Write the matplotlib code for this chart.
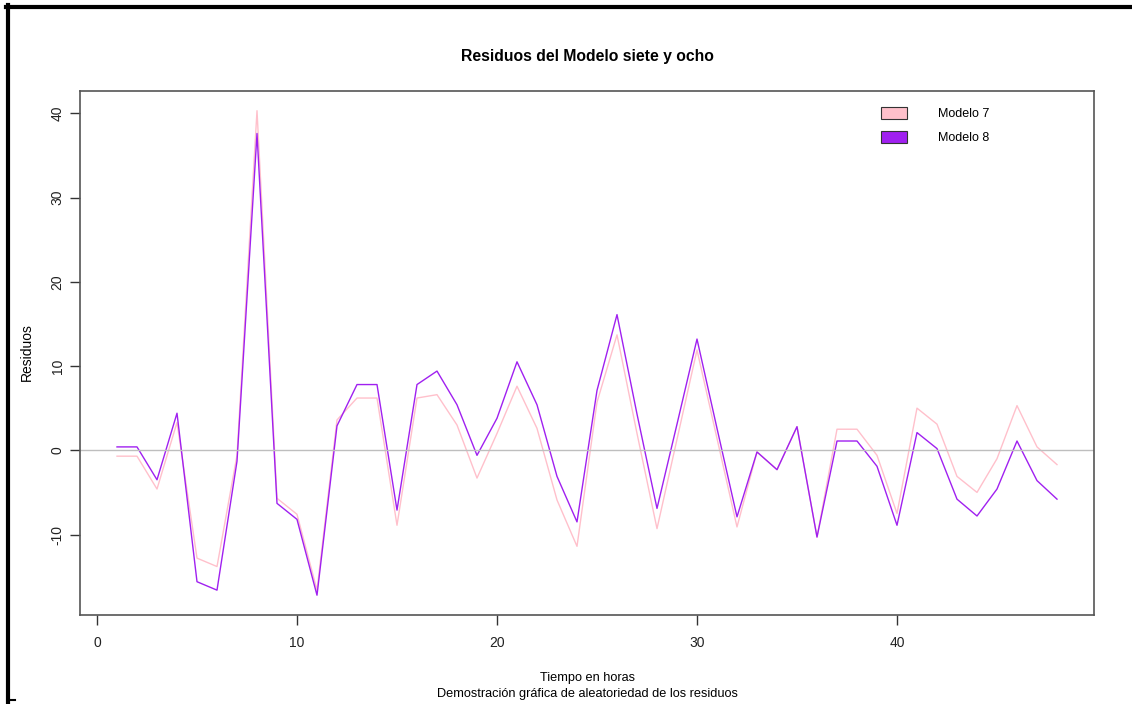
import numpy as np
import matplotlib
matplotlib.use('Agg')
import matplotlib.pyplot as plt
from matplotlib.lines import Line2D
from matplotlib.patches import Patch

plt.rcParams['font.family'] = ['Liberation Sans', 'DejaVu Sans']

hora = list(range(1, 49))

modelo7 = [-0.7, -0.7, -4.6, 3.3, -12.8, -13.8, -0.6, 40.3, -5.7, -7.6,
           -16.6, 3.6, 6.2, 6.2, -8.9, 6.2, 6.6, 3.0, -3.3, 2.0,
           7.6, 2.6, -5.9, -11.4, 5.7, 13.7, 2.0, -9.3, 1.3, 11.9,
           1.4, -9.1, -0.2, -2.3, 2.8, -10.3, 2.5, 2.5, -0.6, -7.5,
           5.0, 3.1, -3.1, -5.0, -1.0, 5.3, 0.4, -1.7]

modelo8 = [0.4, 0.4, -3.5, 4.4, -15.6, -16.6, -1.3, 37.6, -6.3, -8.2,
           -17.2, 2.9, 7.8, 7.8, -7.1, 7.8, 9.4, 5.4, -0.6, 3.8,
           10.5, 5.4, -3.1, -8.5, 7.1, 16.1, 4.3, -6.9, 3.1, 13.2,
           2.6, -7.9, -0.2, -2.3, 2.8, -10.3, 1.1, 1.1, -1.9, -8.9,
           2.1, 0.2, -5.8, -7.8, -4.6, 1.1, -3.6, -5.8]

yticks = [-10, 0, 10, 20, 30, 40]
xticks = [0, 10, 20, 30, 40]

W, H = 1132, 704
fig = plt.figure(figsize=(W / 100, H / 100), dpi=100)
ax = fig.add_axes([80 / W, 1 - 615 / H, 1014 / W, 524 / H])

ax.plot(hora, modelo7, color='pink', lw=1)
ax.plot(hora, modelo8, color='#A020F0', lw=1)
ax.axhline(0, color='#BEBEBE', lw=1)

ax.set_xlim(-0.85, 49.85)
ax.set_ylim(-19.55, 42.64)
ax.set_xticks(xticks)
ax.set_yticks(yticks)
ax.set_yticklabels([str(v) for v in yticks], rotation=90, va='center')
ax.tick_params(direction='out', length=7, width=1, color='#333333',
               labelsize=10, labelcolor='#222222')
ax.tick_params(axis='y', pad=4)
ax.tick_params(axis='x', pad=8)
for s in ax.spines.values():
    s.set_color('#555555')
    s.set_linewidth(1.2)

fig.text(587 / W, 1 - 56 / H, 'Residuos del Modelo siete y ocho',
         ha='center', va='center', fontsize=11.3, fontweight='bold')
fig.text(27 / W, 1 - 352 / H, 'Residuos', rotation=90,
         ha='center', va='center', fontsize=10)
fig.text(587 / W, 1 - 678 / H, 'Tiempo en horas',
         ha='center', va='center', fontsize=9.2)
fig.text(587 / W, 1 - 694 / H, 'Demostración gráfica de aleatoriedad de los residuos',
         ha='center', va='center', fontsize=9.2)

handles = [Patch(facecolor='pink', edgecolor='#333333', lw=0.8),
           Patch(facecolor='#A020F0', edgecolor='#333333', lw=0.8)]
ax.legend(handles, ['Modelo 7', 'Modelo 8'], loc='upper left',
          bbox_to_anchor=((881 - 80) / 1014, (615 - 107) / 524),
          frameon=False, fontsize=9, handlelength=2.08, handleheight=1.04,
          handletextpad=2.45, labelspacing=0.88, borderpad=0, borderaxespad=0)

# screenshot frame
fig.add_artist(Line2D([8 / W, 8 / W], [0, 1 - 5 / H], color='black', lw=3,
                      transform=fig.transFigure))
fig.add_artist(Line2D([6 / W, 1], [1 - 7 / H, 1 - 7 / H], color='black', lw=3,
                      transform=fig.transFigure))
fig.add_artist(Line2D([8 / W, 15 / W], [1 - 700 / H, 1 - 700 / H], color='black', lw=1.5,
                      transform=fig.transFigure))

fig.savefig('out.png', dpi=100)
